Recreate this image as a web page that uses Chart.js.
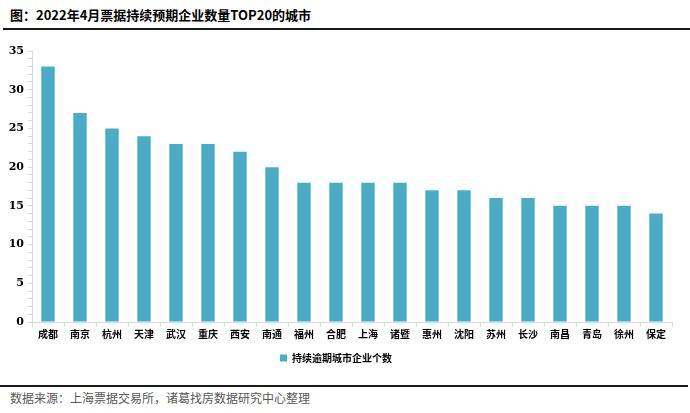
<!DOCTYPE html>
<html>
<head>
<meta charset="utf-8">
<script src="https://cdn.jsdelivr.net/npm/chart.js@4"></script>
<style>
  body { margin: 0; background: #fff; width: 690px; height: 413px; position: relative; overflow: hidden; }
  #title { position: absolute; left: 10px; top: 5px; font: bold 13px "Noto Sans CJK SC", sans-serif; color: #000; }
  #rule1 { position: absolute; left: 3px; width: 687px; top: 28px; height: 0; border-top: 2px solid #1a1a1a; }
  #rule2 { position: absolute; left: 0; width: 688px; top: 385px; height: 0; border-top: 2px solid #1a1a1a; }
  #source { position: absolute; left: 10px; top: 389px; font: 12px "Noto Sans CJK SC", sans-serif; color: #595959; }
  #wrap { position: absolute; left: 0; top: 36px; width: 690px; height: 339px; }
</style>
</head>
<body>
<div id="title">图：2022年4月票据持续预期企业数量TOP20的城市</div>
<div id="rule1"></div>
<div id="wrap"><canvas id="myChart"></canvas></div>
<div id="rule2"></div>
<div id="source">数据来源：上海票据交易所，诸葛找房数据研究中心整理</div>
<script>
const cities = ["成都", "南京", "杭州", "天津", "武汉", "重庆", "西安", "南通", "福州", "合肥",
  "上海", "诸暨", "惠州", "沈阳", "苏州", "长沙", "南昌", "青岛", "徐州", "保定"];
const companyCounts = [33, 27, 25, 24, 23, 23, 22, 20, 18, 18, 18, 18, 17, 17, 16, 16, 15, 15, 15, 14];
const seriesName = "持续逾期城市企业个数";

let ctx = document.getElementById("myChart").getContext("2d");

let barChart = new Chart(ctx, {
  type: "bar",
  data: {
    labels: cities,
    datasets: [
      {
        label: seriesName,
        data: companyCounts,
        backgroundColor: "#4BACC6",
        borderWidth: 0,
        barPercentage: 0.42,
        categoryPercentage: 1,
      },
    ],
  },
  options: {
    responsive: true,
    maintainAspectRatio: false,
    animation: false,
    layout: { padding: { left: 0, right: 18, top: 15, bottom: 2 } },
    plugins: {
      tooltip: { enabled: false },
      legend: {
        position: "bottom",
        labels: {
          boxWidth: 7,
          boxHeight: 7,
          padding: 12,
          color: "#000",
          font: { family: "'Noto Sans CJK SC', sans-serif", size: 10, weight: "bold" },
        },
      },
    },
    scales: {
      x: {
        grid: { drawOnChartArea: false, color: "#d9d9d9", tickLength: 5, offset: true },
        border: { color: "#d9d9d9" },
        ticks: {
          color: "#000",
          padding: 1,
          maxRotation: 0,
          autoSkip: false,
          font: { family: "'Noto Sans CJK SC', sans-serif", size: 10, weight: "bold" },
        },
      },
      y: {
        min: 0,
        max: 35,
        grid: {
          drawOnChartArea: false,
          color: "#d9d9d9",
          tickLength: 4,
        },
        border: { color: "#d9d9d9" },
        ticks: {
          stepSize: 1,
          autoSkip: false,
          color: "#000",
          padding: 4,
          font: { family: "'DejaVu Serif', serif", size: 11, weight: "bold" },
          callback: (v) => (v % 5 === 0 ? v : ""),
        },
        afterFit: (scale) => {
          scale.width = 32;
        },
      },
    },
  },
});
</script>
</body>
</html>
